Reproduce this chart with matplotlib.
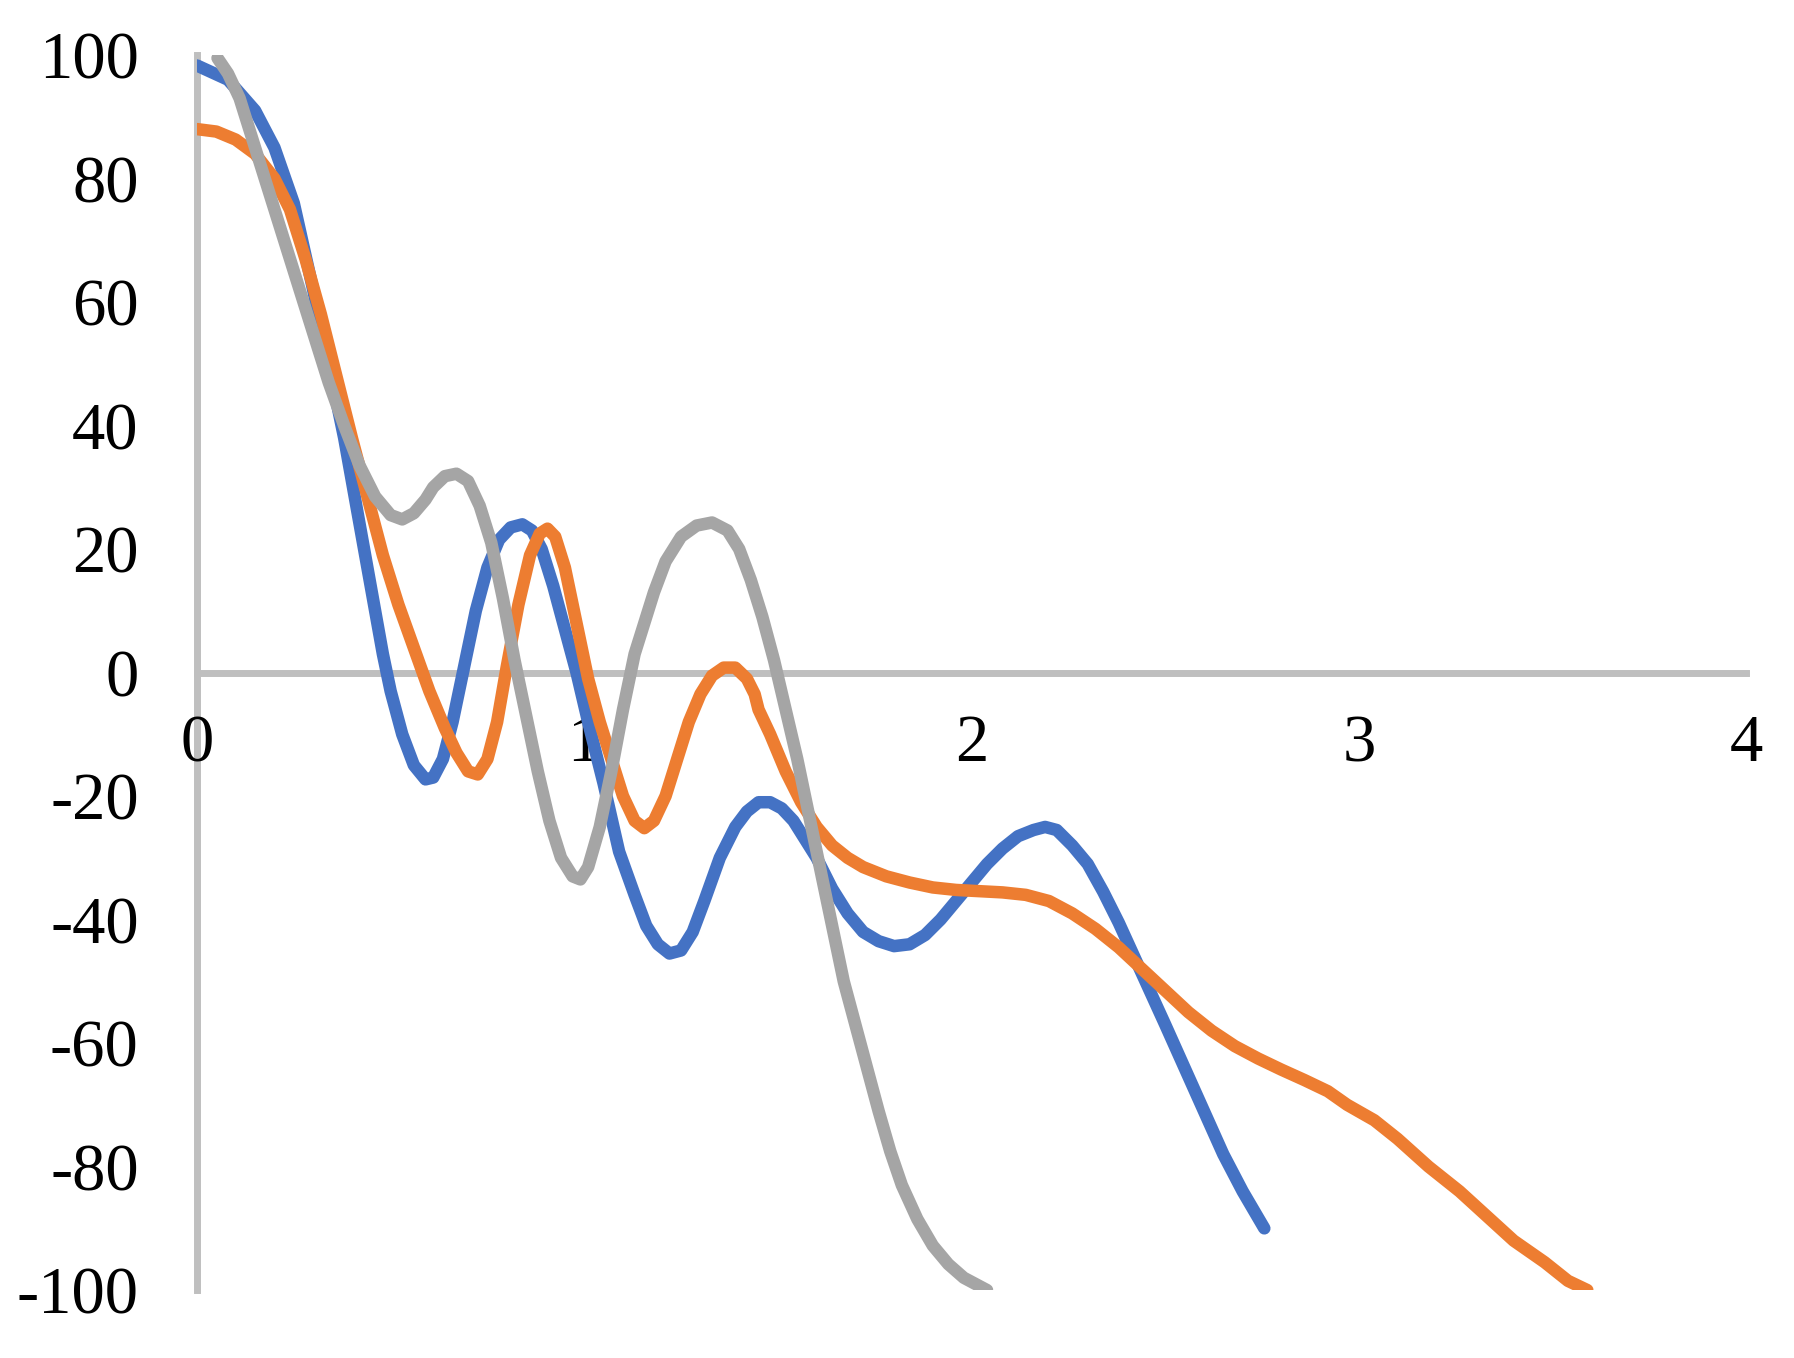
import matplotlib.pyplot as plt

# curves
blue_x = [0.0, 0.08, 0.15, 0.20, 0.25, 0.30, 0.34, 0.38, 0.42, 0.46, 0.48, 0.50, 0.53,
          0.56, 0.59, 0.61, 0.635, 0.66, 0.69, 0.72, 0.75, 0.78, 0.81, 0.84, 0.865,
          0.89, 0.92, 0.95, 0.98, 1.01, 1.05, 1.09, 1.13, 1.16, 1.19, 1.22, 1.25, 1.28,
          1.31, 1.35, 1.39, 1.42, 1.45, 1.48, 1.51, 1.54, 1.57, 1.60, 1.64, 1.68, 1.72,
          1.76, 1.80, 1.84, 1.88, 1.92, 1.96, 2.00, 2.04, 2.08, 2.12, 2.16, 2.19, 2.22,
          2.26, 2.30, 2.34, 2.38, 2.42, 2.46, 2.50, 2.55, 2.60, 2.65, 2.70, 2.756]
blue_y = [98.3, 96, 91, 85, 76, 62, 50, 38, 24, 10, 3, -3, -10,
          -15, -17.3, -17, -14, -8, 1, 10, 17, 21.5, 23.5, 24, 23,
          20, 14, 7, 0, -8, -18, -29, -36, -41, -44, -45.5, -45, -42,
          -37, -30, -25, -22.5, -21, -21, -22, -24, -27, -30, -35, -39, -42,
          -43.5, -44.3, -44, -42.5, -40, -37, -34, -31, -28.5, -26.5, -25.5, -25, -25.5,
          -28, -31, -35.5, -40.5, -46, -51.5, -57, -64, -71, -78, -84, -90]

orange_x = [0.0, 0.05, 0.10, 0.15, 0.20, 0.24, 0.28, 0.32, 0.36, 0.40, 0.44, 0.48, 0.52,
            0.56, 0.60, 0.64, 0.67, 0.70, 0.725, 0.75, 0.775, 0.80, 0.83, 0.86, 0.885,
            0.905, 0.925, 0.95, 0.98, 1.01, 1.04, 1.07, 1.10, 1.13, 1.155, 1.18, 1.21,
            1.24, 1.27, 1.30, 1.33, 1.36, 1.39, 1.42, 1.44, 1.45, 1.48, 1.52, 1.56, 1.60,
            1.64, 1.68, 1.72, 1.78, 1.84, 1.90, 1.96, 2.02, 2.08, 2.14, 2.20, 2.26, 2.32,
            2.38, 2.44, 2.50, 2.56, 2.62, 2.68, 2.74, 2.80, 2.86, 2.92, 2.97, 3.04, 3.10,
            3.18, 3.26, 3.33, 3.40, 3.48, 3.54, 3.59]
orange_y = [88, 87.6, 86.3, 84, 80, 75, 67, 58, 48, 38, 28.5, 19, 11,
            4, -3, -9, -13, -16, -16.5, -14, -8, 1, 11, 19, 22.5,
            23.3, 22, 17, 8, -1, -8, -14, -20, -24, -25.2, -24, -20,
            -14, -8, -3.5, -0.5, 0.8, 0.8, -1, -3.5, -6, -10, -16, -21, -25,
            -28, -30, -31.5, -33, -34, -34.8, -35.2, -35.4, -35.6, -36, -37, -39, -41.5,
            -44.5, -48, -51.5, -55, -58, -60.5, -62.5, -64.3, -66, -67.8, -70, -72.5, -75.5,
            -80, -84, -88, -92, -95.5, -98.5, -100]

gray_x = [0.053, 0.08, 0.11, 0.14, 0.18, 0.22, 0.26, 0.30, 0.34, 0.38, 0.42, 0.46, 0.50,
          0.53, 0.56, 0.59, 0.61, 0.64, 0.67, 0.70, 0.73, 0.76, 0.79, 0.82, 0.85, 0.88,
          0.91, 0.94, 0.97, 0.99, 1.01, 1.04, 1.07, 1.10, 1.13, 1.15, 1.18, 1.21, 1.25,
          1.29, 1.33, 1.37, 1.40, 1.43, 1.46, 1.49, 1.52, 1.55, 1.58, 1.61, 1.64, 1.67,
          1.70, 1.73, 1.76, 1.79, 1.82, 1.86, 1.90, 1.94, 1.98, 2.04]
gray_y = [99.5, 97, 93, 87, 79, 71, 63, 55, 47, 40, 33.5, 28.5, 25.5,
          24.8, 25.8, 28, 30, 31.8, 32.2, 31, 27, 21, 12, 2, -7, -16,
          -24, -30, -33, -33.5, -31.5, -25, -16, -6, 3, 7, 13, 18, 22,
          23.8, 24.3, 23, 20, 15, 9, 2, -6, -14, -23, -32, -41, -50,
          -57, -64, -71, -77.5, -83, -88.5, -92.8, -95.8, -98, -100]

x_ticks = [0, 1, 2, 3, 4]
y_ticks = [-100, -80, -60, -40, -20, 0, 20, 40, 60, 80, 100]

plt.rcParams['font.family'] = ['Liberation Serif', 'DejaVu Serif']
plt.rcParams['axes.unicode_minus'] = False

fig = plt.figure(figsize=(17.94, 13.58), dpi=100)
ax = fig.add_axes([0.1098, 0.050, 0.8635, 0.9095])

lw = 9
for xs, ys, col in [(blue_x, blue_y, '#4472C4'),
                    (orange_x, orange_y, '#ED7D31'),
                    (gray_x, gray_y, '#A5A5A5')]:
    ax.plot(xs, ys, color=col, lw=lw, solid_capstyle='round', solid_joinstyle='round')

ax.set_xlim(0, 4)
ax.set_ylim(-100, 100)
ax.set_xticks(x_ticks)
ax.set_yticks(y_ticks)

for side in ['top', 'right']:
    ax.spines[side].set_visible(False)
ax.spines['left'].set_position(('data', 0))
ax.spines['bottom'].set_position(('data', 0))
for side in ['left', 'bottom']:
    ax.spines[side].set_color('#BFBFBF')
    ax.spines[side].set_linewidth(5)
    ax.spines[side].set_zorder(0)

ax.tick_params(axis='both', length=0, labelsize=48)
ax.tick_params(axis='x', pad=30)
ax.tick_params(axis='y', pad=42)

fig.savefig('out.png', dpi=100, facecolor='white')
